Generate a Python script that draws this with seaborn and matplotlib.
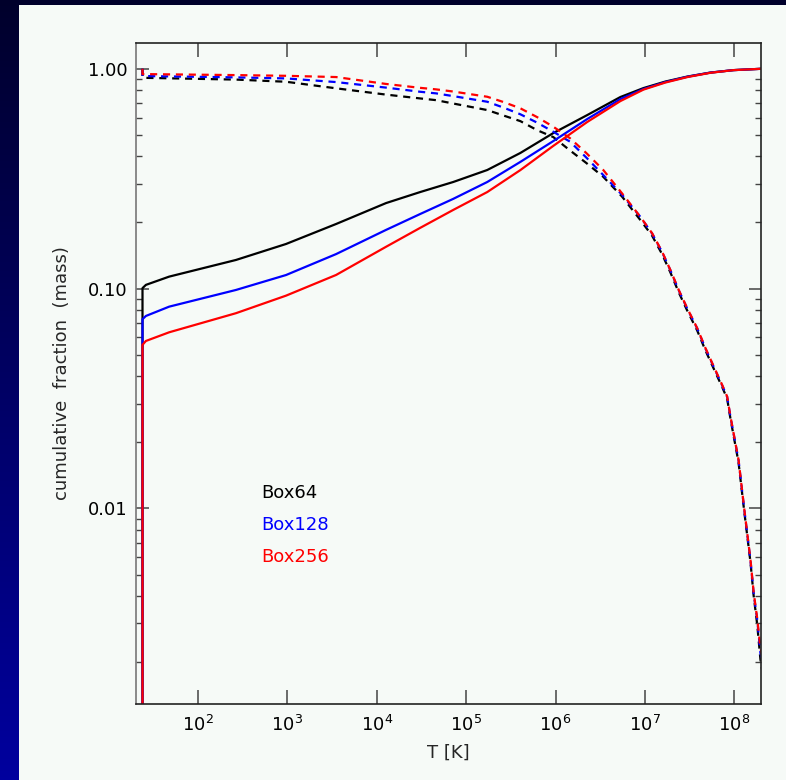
import numpy as np
import pandas as pd
import matplotlib
matplotlib.use("Agg")
import matplotlib.pyplot as plt
from matplotlib.patches import Rectangle
from matplotlib.ticker import FixedLocator, FuncFormatter, LogLocator, NullLocator, NullFormatter
import seaborn as sns

# ---- data -----------------------------------------------------------------
runs = ["Box64", "Box128", "Box256"]
run_colors = ["#000000", "#0000ff", "#ff0000"]

# cumulative mass fraction of gas below temperature T (solid curves)
T_below = [24.0, 24.0, 26.2, 47.7, 266, 966, 3510, 12700, 30600, 71600,
           172000, 403000, 942000, 2.26e6, 5.30e6, 9.6e6, 1.69e7, 2.98e7,
           5.39e7, 9.75e7, 2.0e8]
box64_below = [0.001, 0.1005, 0.104, 0.1134, 0.135, 0.1596, 0.1968, 0.245,
               0.275, 0.3055, 0.3464, 0.414, 0.510, 0.616, 0.744, 0.817,
               0.875, 0.922, 0.961, 0.986, 1.0]
box128_below = [0.001, 0.0726, 0.0751, 0.0828, 0.0986, 0.1153, 0.1436, 0.185,
                0.2185, 0.256, 0.3055, 0.377, 0.469, 0.591, 0.728, 0.809,
                0.870, 0.920, 0.961, 0.986, 1.0]
box256_below = [0.001, 0.0555, 0.0578, 0.0633, 0.0773, 0.0929, 0.1154, 0.155,
                0.189, 0.228, 0.275, 0.346, 0.446, 0.573, 0.713, 0.804,
                0.866, 0.917, 0.959, 0.986, 1.0]

# cumulative mass fraction of gas above temperature T (dashed curves)
T_above = [24.0, 24.0, 266, 966, 3510, 12700, 30600, 46000, 71600, 172000,
           261000, 403000, 620000, 942000, 1.45e6, 2.2e6, 3.4e6, 5.54e6,
           8.87e6, 1.2e7, 1.55e7, 1.92e7, 2.38e7, 2.96e7, 3.83e7, 4.74e7,
           5.87e7, 7.28e7, 8.28e7, 9.02e7, 1.11e8, 1.29e8, 1.51e8, 1.64e8,
           1.80e8, 1.95e8, 2.11e8]
box64_above = [1.0, 0.91, 0.893, 0.873, 0.815, 0.763, 0.733, 0.72, 0.695,
               0.649, 0.613, 0.578, 0.526, 0.489, 0.425, 0.373, 0.323, 0.262,
               0.205, 0.174, 0.1435, 0.1185, 0.0962, 0.0795, 0.0645, 0.0523,
               0.0432, 0.0357, 0.0316, 0.0256, 0.0162, 0.0096, 0.0057, 0.0040,
               0.00294, 0.00206, 0.0017]
box128_above = [1.0, 0.927, 0.914, 0.904, 0.87, 0.821, 0.786, 0.773, 0.751,
                0.708, 0.666, 0.621, 0.569, 0.517, 0.466, 0.395, 0.329, 0.267,
                0.212, 0.178, 0.1468, 0.1212, 0.0983, 0.0812, 0.0659, 0.0534,
                0.0440, 0.0363, 0.0322, 0.0261, 0.0166, 0.0098, 0.0058, 0.0041,
                0.0031, 0.0022, 0.0019]
box256_above = [1.0, 0.946, 0.936, 0.929, 0.917, 0.853, 0.819, 0.806, 0.788,
                0.746, 0.706, 0.661, 0.603, 0.545, 0.483, 0.414, 0.347, 0.271,
                0.212, 0.1786, 0.1473, 0.1216, 0.0986, 0.0815, 0.0661, 0.0536,
                0.0442, 0.0365, 0.0323, 0.0262, 0.01665, 0.00986, 0.00585,
                0.00414, 0.00314, 0.00232, 0.0020]

y_ticks = [0.01, 0.1, 1.0]

# ---- long-form table --------------------------------------------------------
frames = []
for run, below, above in zip(runs,
                             [box64_below, box128_below, box256_below],
                             [box64_above, box128_above, box256_above]):
    frames.append(pd.DataFrame({"T": T_below, "frac": below, "run": run, "side": "below"}))
    frames.append(pd.DataFrame({"T": T_above, "frac": above, "run": run, "side": "above"}))
df = pd.concat(frames, ignore_index=True)

# ---- style -------------------------------------------------------------------
sns.set_style("ticks")
plt.rcParams["font.family"] = ["DejaVu Sans"]
plt.rcParams["mathtext.default"] = "regular"

panel = "#f6faf7"
W, H = 786, 780
fig = plt.figure(figsize=(W / 100, H / 100), dpi=100)

# navy gradient backdrop with the light panel on top
bg = fig.add_axes([0, 0, 1, 1], zorder=-10)
grad = np.linspace(0, 1, 256).reshape(-1, 1)
bg_cmap = matplotlib.colors.LinearSegmentedColormap.from_list(
    "navy", [(0.0, 0.0, 0.17), (0.0, 0.0, 0.62)])
bg.imshow(grad, aspect="auto", cmap=bg_cmap, extent=[0, W, H, 0])
bg.add_patch(Rectangle((19, 5), W - 19, H - 5, facecolor=panel, edgecolor="none"))
bg.set_xlim(0, W)
bg.set_ylim(H, 0)
bg.axis("off")

ax = fig.add_axes([136 / W, 1 - 704 / H, (761 - 136) / W, (704 - 43) / H])
ax.set_facecolor(panel)

sns.lineplot(data=df, x="T", y="frac", hue="run", style="side",
             hue_order=runs, palette=run_colors,
             style_order=["below", "above"],
             dashes={"below": "", "above": (3.2, 2.6)},
             estimator=None, sort=False, linewidth=1.6,
             legend=False, ax=ax)

ax.set_xscale("log")
ax.set_yscale("log")
ax.set_xlim(20.3, 1.98e8)
ax.set_ylim(0.00129, 1.31)

ax.xaxis.set_major_locator(LogLocator(base=10, numticks=20))
ax.xaxis.set_minor_locator(NullLocator())
ax.xaxis.set_minor_formatter(NullFormatter())
ax.yaxis.set_major_locator(FixedLocator(y_ticks))
ax.yaxis.set_major_formatter(FuncFormatter(lambda v, p: f"{v:.2f}"))
ax.yaxis.set_minor_locator(LogLocator(base=10, subs=np.arange(2, 10), numticks=20))
ax.yaxis.set_minor_formatter(NullFormatter())

ax.tick_params(axis="both", which="both", direction="in", top=True, right=True,
               color="#444444", labelsize=13, labelcolor="black")
ax.tick_params(axis="x", which="major", length=10, width=1.1, pad=8)
ax.tick_params(axis="y", which="major", length=9, width=1.1, pad=6)
ax.tick_params(axis="y", which="minor", length=4.5, width=1.0)

for side, sp in ax.spines.items():
    sp.set_linewidth(1.2)
    sp.set_color("#222222")
ax.spines["left"].set_color("#777777")

ax.set_xlabel("T [K]", fontsize=13, labelpad=6)
ax.set_ylabel("cumulative  fraction  (mass)", fontsize=13, labelpad=12)

for run, col, yy in zip(runs, run_colors, [0.319, 0.271, 0.222]):
    ax.text(0.201, yy, run, transform=ax.transAxes, color=col,
            fontsize=13, va="center", ha="left")

fig.savefig("out.png", dpi=100, facecolor=fig.get_facecolor())
